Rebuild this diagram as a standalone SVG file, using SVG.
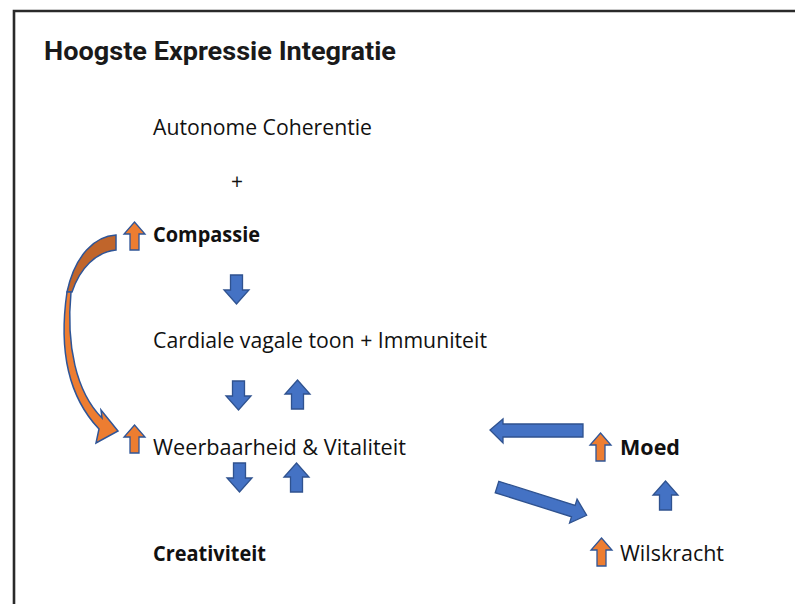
<svg xmlns="http://www.w3.org/2000/svg" width="795" height="604" viewBox="0 0 795 604">
<defs>
<style>
.t{font-family:"Open Sans","Noto Sans","Liberation Sans",sans-serif;font-size:21px;fill:#111;font-variant-ligatures:none}
.b{font-weight:bold}
.title{font-family:"Roboto","Liberation Sans",sans-serif;font-size:26px;font-weight:bold;fill:#1a1a1a}
.blue{fill:#4472C4;stroke:#2F528F;stroke-width:1.3;stroke-linejoin:miter}
.org{fill:#ED7D31;stroke:#2F5597;stroke-width:1.3}
</style>
<path id="up" d="M10.5,0 L21,12 L15,12 L15,28 L6,28 L6,12 L0,12 Z"/>
<path id="bup" d="M12.5,0 L25,14 L18.5,14 L18.5,29 L6.5,29 L6.5,14 L0,14 Z"/>
<path id="bdown" d="M6.5,0 L18.5,0 L18.5,15 L25,15 L12.5,29 L0,15 L6.5,15 Z"/>
</defs>
<rect width="795" height="604" fill="#fff"/>
<path d="M14,604 L14,11 L795,11" fill="none" stroke="#2a2a2a" stroke-width="2.6"/>
<text class="title" x="44" y="60" textLength="352" lengthAdjust="spacingAndGlyphs">Hoogste Expressie Integratie</text>

<g id="autonome"><text class="t" x="153" y="135" textLength="219" lengthAdjust="spacingAndGlyphs">Autonome Coherentie</text></g>
<g id="plus"><text class="t" x="231" y="189">+</text></g>
<g id="compassie">
<use href="#up" class="org" x="124" y="222"/>
<text class="t b" x="153" y="242" textLength="107" lengthAdjust="spacingAndGlyphs">Compassie</text>
</g>
<g id="cardiale"><text class="t" x="153" y="348" textLength="334" lengthAdjust="spacingAndGlyphs">Cardiale vagale toon + Immuniteit</text></g>
<g id="weerbaarheid">
<use href="#up" class="org" x="124" y="425"/>
<text class="t" x="153" y="455" textLength="253" lengthAdjust="spacingAndGlyphs">Weerbaarheid &amp; Vitaliteit</text>
</g>
<g id="creativiteit"><text class="t b" x="153" y="561" textLength="113" lengthAdjust="spacingAndGlyphs">Creativiteit</text></g>
<g id="moed">
<use href="#up" class="org" x="590" y="433"/>
<text class="t b" x="620" y="455" textLength="60" lengthAdjust="spacingAndGlyphs">Moed</text>
</g>
<g id="wilskracht">
<use href="#up" class="org" x="591" y="538"/>
<text class="t" x="620" y="561" textLength="104" lengthAdjust="spacingAndGlyphs">Wilskracht</text>
</g>

<g id="connectors">
<use href="#bdown" class="blue" x="224" y="275"/>
<use href="#bdown" class="blue" x="226" y="381"/>
<use href="#bup" class="blue" x="285" y="380"/>
<use href="#bdown" class="blue" x="227" y="463"/>
<use href="#bup" class="blue" x="284" y="463"/>
<use href="#bup" class="blue" x="653" y="481"/>
<path class="blue" d="M490,430 L503,419 L503,424 L583,424 L583,437 L503,437 L503,443 Z"/>
<path class="blue" transform="translate(497,487) rotate(17.5)" d="M0,-6 L80,-6 L80,-12.5 L94,0 L80,12.5 L80,6 L0,6 Z"/>
<path d="M116,235 C95,236 75,255 67,292 L72,292 C80,268 96,252 116,250 Z" fill="#C0652B" stroke="#2F5597" stroke-width="1.5"/>
<path d="M67,292 C60,340 64,392 99,429 L96,443 L118,431 L101,410 L102,418 C76,392 66,345 71,292 Z" fill="#ED7D31" stroke="#2F5597" stroke-width="1.5" stroke-linejoin="miter"/>
</g>
</svg>
